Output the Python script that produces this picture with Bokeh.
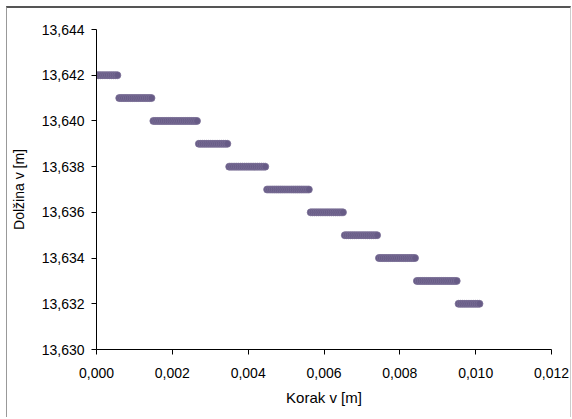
from bokeh.plotting import figure
from bokeh.models import FixedTicker, CustomJSTickFormatter, Range1d, ColumnDataSource
from bokeh.embed import file_html
from bokeh.resources import INLINE

# Step size (Korak) values [m], grouped by measured length (Dolžina) [m]
korak_13642 = [0.00000, 0.00005, 0.00010, 0.00015, 0.00020, 0.00025, 0.00030, 0.00035,
               0.00040, 0.00045, 0.00050, 0.00055]
korak_13641 = [0.00060, 0.00065, 0.00070, 0.00075, 0.00080, 0.00085, 0.00090, 0.00095,
               0.00100, 0.00105, 0.00110, 0.00115, 0.00120, 0.00125, 0.00130, 0.00135,
               0.00140, 0.00145]
korak_13640 = [0.00150, 0.00155, 0.00160, 0.00165, 0.00170, 0.00175, 0.00180, 0.00185,
               0.00190, 0.00195, 0.00200, 0.00205, 0.00210, 0.00215, 0.00220, 0.00225,
               0.00230, 0.00235, 0.00240, 0.00245, 0.00250, 0.00255, 0.00260, 0.00265]
korak_13639 = [0.00270, 0.00275, 0.00280, 0.00285, 0.00290, 0.00295, 0.00300, 0.00305,
               0.00310, 0.00315, 0.00320, 0.00325, 0.00330, 0.00335, 0.00340, 0.00345]
korak_13638 = [0.00350, 0.00355, 0.00360, 0.00365, 0.00370, 0.00375, 0.00380, 0.00385,
               0.00390, 0.00395, 0.00400, 0.00405, 0.00410, 0.00415, 0.00420, 0.00425,
               0.00430, 0.00435, 0.00440, 0.00445]
korak_13637 = [0.00450, 0.00455, 0.00460, 0.00465, 0.00470, 0.00475, 0.00480, 0.00485,
               0.00490, 0.00495, 0.00500, 0.00505, 0.00510, 0.00515, 0.00520, 0.00525,
               0.00530, 0.00535, 0.00540, 0.00545, 0.00550, 0.00555, 0.00560]
korak_13636 = [0.00565, 0.00570, 0.00575, 0.00580, 0.00585, 0.00590, 0.00595, 0.00600,
               0.00605, 0.00610, 0.00615, 0.00620, 0.00625, 0.00630, 0.00635, 0.00640,
               0.00645, 0.00650]
korak_13635 = [0.00655, 0.00660, 0.00665, 0.00670, 0.00675, 0.00680, 0.00685, 0.00690,
               0.00695, 0.00700, 0.00705, 0.00710, 0.00715, 0.00720, 0.00725, 0.00730,
               0.00735, 0.00740]
korak_13634 = [0.00745, 0.00750, 0.00755, 0.00760, 0.00765, 0.00770, 0.00775, 0.00780,
               0.00785, 0.00790, 0.00795, 0.00800, 0.00805, 0.00810, 0.00815, 0.00820,
               0.00825, 0.00830, 0.00835, 0.00840]
korak_13633 = [0.00845, 0.00850, 0.00855, 0.00860, 0.00865, 0.00870, 0.00875, 0.00880,
               0.00885, 0.00890, 0.00895, 0.00900, 0.00905, 0.00910, 0.00915, 0.00920,
               0.00925, 0.00930, 0.00935, 0.00940, 0.00945, 0.00950]
korak_13632 = [0.00955, 0.00960, 0.00965, 0.00970, 0.00975, 0.00980, 0.00985, 0.00990,
               0.00995, 0.01000, 0.01005, 0.01010]

levels = [13.642, 13.641, 13.640, 13.639, 13.638, 13.637, 13.636, 13.635, 13.634, 13.633, 13.632]
groups = [korak_13642, korak_13641, korak_13640, korak_13639, korak_13638, korak_13637,
          korak_13636, korak_13635, korak_13634, korak_13633, korak_13632]

x_ticks = [0.000, 0.002, 0.004, 0.006, 0.008, 0.010, 0.012]
y_ticks = [13.630, 13.632, 13.634, 13.636, 13.638, 13.640, 13.642, 13.644]

xs, ys = [], []
for lvl, g in zip(levels, groups):
    xs.extend(g)
    ys.extend([lvl] * len(g))
src = ColumnDataSource(dict(x=xs, y=ys))

p = figure(width=565, height=411, output_backend="svg", toolbar_location=None,
           x_range=Range1d(0, 0.012), y_range=Range1d(13.630, 13.644),
           min_border_left=89, min_border_right=21, min_border_top=21, min_border_bottom=70)
p.styles = {"margin-left": "6px", "margin-top": "6px",
            "border-top": "2px solid #555555", "border-left": "1px solid #999999",
            "border-right": "1px solid #cccccc", "box-sizing": "border-box"}
p.outline_line_color = None
p.grid.visible = False
p.background_fill_color = "white"
p.border_fill_color = "white"

p.scatter("x", "y", source=src, size=7, fill_color="#675B86", line_color="#7A6F95", line_width=0.8)

fmt = CustomJSTickFormatter(code="return tick.toFixed(3).replace('.', ',');")
for ax, ticks in ((p.xaxis[0], x_ticks), (p.yaxis[0], y_ticks)):
    ax.ticker = FixedTicker(ticks=ticks)
    ax.formatter = fmt
    ax.minor_tick_line_color = None
    ax.major_tick_in = 0
    ax.major_tick_out = 5
    ax.axis_line_color = "black"
    ax.major_tick_line_color = "black"
    ax.major_label_text_font = "Liberation Sans"
    ax.major_label_text_font_size = "14px"
    ax.major_label_text_color = "black"
    ax.axis_label_text_font = "Liberation Sans"
    ax.axis_label_text_font_style = "normal"
    ax.axis_label_text_color = "black"

p.xaxis.axis_label = "Korak v [m]"
p.yaxis.axis_label = "Dolžina v [m]"
p.xaxis.axis_label_text_font_size = "15px"
p.yaxis.axis_label_text_font_size = "14px"
p.xaxis.major_label_standoff = 13
p.yaxis.major_label_standoff = 7
p.xaxis.axis_label_standoff = 8
p.yaxis.axis_label_standoff = 12

open("out.html", "w").write(file_html(p, INLINE))
